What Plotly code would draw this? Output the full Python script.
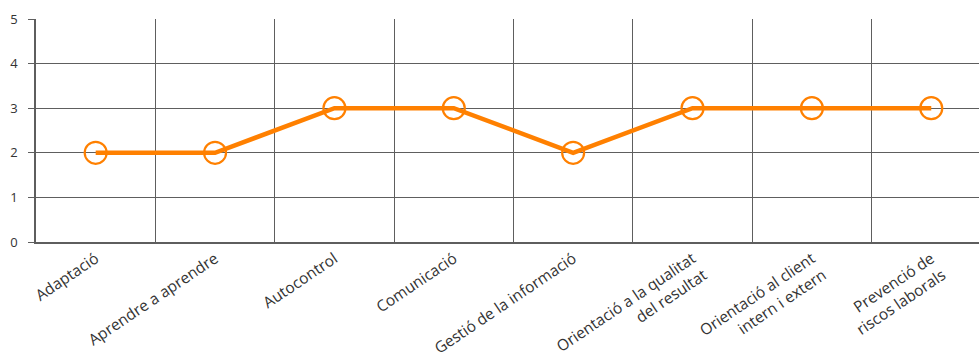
import plotly.graph_objects as go

categories = ["Adaptació", "Aprendre a aprendre", "Autocontrol", "Comunicació",
              "Gestió de la informació", "Orientació a la qualitat<br>del resultat",
              "Orientació al client<br>intern i extern", "Prevenció de<br>riscos laborals"]
values = [2, 2, 3, 3, 2, 3, 3, 3]
y_ticks = [0, 1, 2, 3, 4, 5]

xs = list(range(len(categories)))
orange = "#FF8000"
gridc = "#5e5e5e"

fig = go.Figure()
fig.add_trace(go.Scatter(
    x=xs, y=values, mode="lines+markers",
    line=dict(color=orange, width=4.5),
    marker=dict(symbol="circle-open", size=22, color=orange, line=dict(width=2.2, color=orange)),
    hoverinfo="skip", showlegend=False,
))

fig.update_layout(
    width=979, height=359,
    margin=dict(l=36, r=0, t=19, b=117),
    paper_bgcolor="white", plot_bgcolor="white",
    font=dict(family="Open Sans, Noto Sans, sans-serif", size=12, color="#333333"),
    xaxis=dict(
        range=[-0.5, 7.4], tickmode="array", tickvals=xs, ticktext=categories,
        tickangle=-34, showgrid=False, zeroline=False, automargin=False,
        showline=True, linecolor=gridc, linewidth=1.5,
        ticks="", tickfont=dict(size=15.5),
        minor=dict(tick0=0.5, dtick=1, showgrid=True, gridcolor=gridc, gridwidth=1, ticks=""),
    ),
    yaxis=dict(
        range=[0, 5], tickmode="array", tickvals=y_ticks, automargin=False,
        showgrid=True, gridcolor=gridc, gridwidth=1, zeroline=False,
        showline=True, linecolor=gridc, linewidth=1.5,
        ticks="outside", ticklen=6, tickcolor=gridc, tickwidth=1,
        tickfont=dict(size=13), ticklabelstandoff=8,
    ),
)

fig.write_html("out.html")
